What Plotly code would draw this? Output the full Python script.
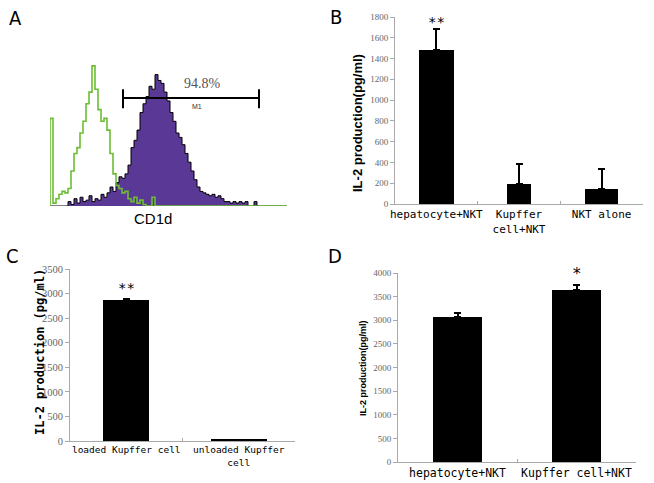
import plotly.graph_objects as go

W, H = 654, 483

# ---------------- Panel A: CD1d flow histogram ----------------
hist_step = 3
green_counts = [60, 2, 5, 8, 10, 9, 12, 24, 36, 40, 50, 58, 70, 78, 96, 80, 66, 58, 60, 52,
                36, 22, 14, 12, 9, 10, 5, 3, 6, 2, 4, 1, 0, 0, 6, 0, 0, 0, 0, 0,
                0, 0, 0, 0, 0, 0, 0, 0, 0, 0, 0, 0, 0, 0, 0, 0, 0, 0, 0, 0,
                0, 0, 0, 0, 0, 0, 0, 0, 0, 0, 0, 0, 0, 0, 0, 0, 0, 0, 0, 0]
purple_counts = [0, 0, 0, 0, 0, 0, 3, 1, 5, 2, 6, 3, 4, 7, 3, 5, 4, 8, 6, 9,
                 13, 10, 16, 20, 19, 22, 28, 40, 45, 52, 64, 70, 75, 82, 80, 90, 86, 84, 78, 72,
                 64, 58, 50, 47, 42, 36, 30, 24, 18, 13, 10, 9, 8, 7, 8, 6, 7, 5, 3, 3,
                 2, 3, 2, 3, 2, 3, 0, 0, 3, 0, 0, 0, 0, 0, 0, 0, 0, 0, 0, 0]
gate_start, gate_end, gate_level = 73, 209, 74
gate_label = "94.8%"
gate_name = "M1"

# ---------------- Panel B ----------------
b_cats = ["hepatocyte+NKT", "Kupffer<br>cell+NKT", "NKT alone"]
b_vals = [1480, 195, 140]
b_err = [200, 190, 200]
b_sig = ["**", "", ""]
b_ticks = list(range(0, 1801, 200))

# ---------------- Panel C ----------------
c_cats = ["loaded Kupffer cell", "unloaded Kupffer<br>cell"]
c_vals = [2865, 30]
c_err = [15, 0]
c_sig = ["**", ""]
c_ticks = list(range(0, 3501, 500))

# ---------------- Panel D ----------------
d_cats = ["hepatocyte+NKT", "Kupffer cell+NKT"]
d_vals = [3060, 3640]
d_err = [95, 115]
d_sig = ["", "*"]
d_ticks = list(range(0, 4001, 500))


def xd(a, b):
    return [a / W, b / W]


def yd(top, bottom):
    return [1 - bottom / H, 1 - top / H]


fig = go.Figure()

# Panel A traces
bins = [i * hist_step for i in range(len(green_counts))]
fig.add_trace(go.Scatter(x=bins, y=purple_counts, mode="lines", line_shape="hv",
                         fill="tozeroy", fillcolor="#5a3896",
                         line=dict(color="black", width=1), xaxis="x", yaxis="y",
                         showlegend=False))
fig.add_trace(go.Scatter(x=[0] + bins, y=[0] + green_counts, mode="lines", line_shape="hv",
                         line=dict(color="#6cbd35", width=1.6), xaxis="x", yaxis="y",
                         showlegend=False))
# gate marker
fig.add_trace(go.Scatter(x=[gate_start, gate_end], y=[gate_level, gate_level], mode="lines",
                         line=dict(color="black", width=2), xaxis="x", yaxis="y", showlegend=False))
for gx in (gate_start, gate_end):
    fig.add_trace(go.Scatter(x=[gx, gx], y=[gate_level - 7, gate_level + 6], mode="lines",
                             line=dict(color="black", width=2), xaxis="x", yaxis="y",
                             showlegend=False))
fig.add_annotation(x=(gate_start + gate_end) / 2 + 11, y=gate_level + 10, xref="x", yref="y",
                   text=gate_label, showarrow=False, xanchor="center", yanchor="middle",
                   font=dict(family="Liberation Serif", size=14, color="#555"))
fig.add_annotation(x=(gate_start + gate_end) / 2 + 6, y=gate_level - 6, xref="x", yref="y",
                   text=gate_name, showarrow=False, xanchor="center", yanchor="middle",
                   font=dict(family="Liberation Sans", size=7, color="#333"))

bar_tick_font = dict(family="Liberation Serif", size=9, color="#666")


def bar_panel(n, cats, vals, errs, sig, widths, sig_font, sig_offset):
    xa = "x" + str(n)
    ya = "y" + str(n)
    fig.add_trace(go.Bar(x=cats, y=vals, width=widths, marker=dict(color="black", line=dict(width=0)),
                         error_y=dict(type="data", array=errs, arrayminus=[0] * len(errs),
                                      symmetric=False, color="black", thickness=2, width=3.5),
                         xaxis=xa, yaxis=ya, showlegend=False))
    for c, v, e, s in zip(cats, vals, errs, sig):
        if s:
            fig.add_annotation(x=c, y=v + e + sig_offset, xref=xa, yref=ya, text=s,
                               showarrow=False, xanchor="center", yanchor="middle", font=sig_font)


bar_panel(2, b_cats, b_vals, b_err, b_sig, [0.42, 0.3, 0.4],
          dict(family="DejaVu Sans Mono", size=14, color="black"), 75)
bar_panel(3, c_cats, c_vals, c_err, c_sig, [0.41, 0.5],
          dict(family="DejaVu Sans Mono", size=14, color="black"), 235)
bar_panel(4, d_cats, d_vals, d_err, d_sig, [0.42, 0.42],
          dict(family="DejaVu Sans Mono", size=16, color="black"), 245)


def yaxis_cfg(domain, ticks, anchor, font):
    return dict(domain=domain, range=[0, ticks[-1]], tickvals=ticks, ticks="outside",
                ticklen=4, tickcolor="#aaa", showline=True, linecolor="#aaa", linewidth=1,
                showgrid=False, zeroline=False, tickfont=font, anchor=anchor, fixedrange=True,
                automargin=False)


def xaxis_cfg(domain, anchor, font):
    return dict(domain=domain, showline=True, linecolor="#aaa", linewidth=1, ticks="inside",
                tickson="boundaries", ticklen=3, tickcolor="#aaa", showgrid=False,
                tickfont=font, anchor=anchor, fixedrange=True, tickangle=0, automargin=False)


fig.update_layout(
    template="none",
    width=W, height=H, margin=dict(l=0, r=0, t=0, b=0, pad=0, autoexpand=False),
    paper_bgcolor="white", plot_bgcolor="white", bargap=0,
    xaxis=dict(domain=xd(50, 287), range=[0, 237], visible=False, anchor="y", automargin=False),
    yaxis=dict(domain=yd(60, 206), range=[0, 100], visible=False, anchor="x", automargin=False),
    xaxis2=xaxis_cfg(xd(395, 643), "y2", dict(family="DejaVu Sans Mono", size=11, color="black")),
    yaxis2=yaxis_cfg(yd(17, 204), b_ticks, "x2", bar_tick_font),
    xaxis3=xaxis_cfg(xd(70, 295), "y3", dict(family="DejaVu Sans Mono", size=9.5, color="black")),
    yaxis3=yaxis_cfg(yd(269, 441), c_ticks, "x3", dict(family="Liberation Serif", size=10.5, color="#666")),
    xaxis4=xaxis_cfg(xd(398, 636), "y4", dict(family="DejaVu Sans Mono", size=11.5, color="black")),
    yaxis4=yaxis_cfg(yd(273, 462), d_ticks, "x4", bar_tick_font),
)


def paper_text(txt, px, py, font, angle=0):
    fig.add_annotation(x=px / W, y=1 - py / H, xref="paper", yref="paper", text=txt,
                       showarrow=False, xanchor="center", yanchor="middle",
                       textangle=angle, font=font)


# Panel letters
letter_font = dict(family="Liberation Sans Narrow, DejaVu Sans Condensed, Liberation Sans", size=20, color="black")
for txt, px, py in [("A", 15, 18), ("B", 336, 17), ("C", 12, 256), ("D", 335, 256)]:
    paper_text(txt, px, py, letter_font)

# Axis titles
paper_text("CD1d", 153, 218, dict(family="Liberation Sans", size=15, color="black"))
paper_text("<b>IL-2 production(pg/ml)</b>", 358, 123,
           dict(family="Liberation Sans", size=13, color="black"), -90)
paper_text("<b>IL-2 production (pg/ml)</b>", 40, 352,
           dict(family="DejaVu Sans Mono", size=12, color="black"), -90)
paper_text("<b>IL-2 production(pg/ml)</b>", 363, 369,
           dict(family="Liberation Sans", size=9, color="black"), -90)

fig.write_html("out.html", config={"displayModeBar": False},
               post_script="document.body.style.margin='0';document.body.style.padding='0';")
